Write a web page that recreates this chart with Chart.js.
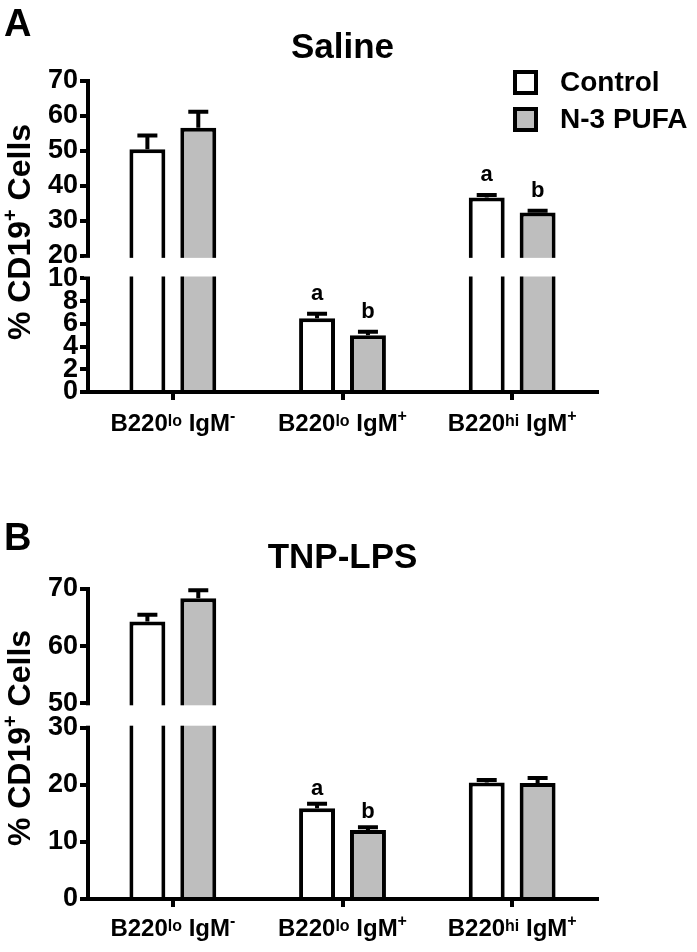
<!DOCTYPE html>
<html lang="en">
<head>
<meta charset="UTF-8">
<title>% CD19+ cells - Saline / TNP-LPS</title>
<script src="https://cdn.jsdelivr.net/npm/chart.js@4.4.1/dist/chart.umd.min.js"></script>
<style>
  body { margin: 0; background: #fff; }
  canvas { position: absolute; left: 0; }
  #panelA { top: 0; }
  #panelB { top: 476px; }
</style>
</head>
<body>
<canvas id="panelA" width="697" height="476"></canvas>
<canvas id="panelB" width="697" height="476"></canvas>
<script>
// categories: [normal, superscript, normal, superscript]
const categoryParts = [
  ['B220', 'lo', ' IgM', '-'],
  ['B220', 'lo', ' IgM', '+'],
  ['B220', 'hi', ' IgM', '+']
];
const categories = categoryParts.map(p => p.join(''));
const seriesNames = ['Control', 'N-3 PUFA'];

// Saline
const salineControl = [50.5, 6.5, 36.7];
const salineControlErr = [3.9, 0.4, 0.7];
const salinePufa = [56.6, 5.0, 32.4];
const salinePufaErr = [4.6, 0.3, 0.5];
const salineSigControl = ['', 'a', 'a'];
const salineSigPufa = ['', 'b', 'b'];
const salineTicks = [0, 2, 4, 6, 8, 10, 20, 30, 40, 50, 60, 70];

// TNP-LPS
const tnpControl = [64.3, 15.9, 20.4];
const tnpControlErr = [1.2, 0.8, 0.45];
const tnpPufa = [68.4, 12.1, 20.3];
const tnpPufaErr = [1.4, 0.45, 0.9];
const tnpSigControl = ['', 'a', ''];
const tnpSigPufa = ['', 'b', ''];
const tnpTicks = [0, 10, 20, 30, 50, 60, 70];

const FONT = "'Liberation Sans', Arial, Helvetica, sans-serif";
const GREY = '#bebebe';
Chart.defaults.font.family = FONT;
Chart.defaults.font.weight = 'bold';
Chart.defaults.color = '#000';

// linear scale with one break (lower range, gap, upper range)
class BrokenScale extends Chart.LinearScale {
  getPixelForValue(value) {
    if (value === null || value === undefined) return NaN;
    const o = this.options;
    const k = (this.bottom - this.top) / (o.lowerSize + o.gapSize + o.upperSize);
    const lowTop = this.bottom - o.lowerSize * k;
    const highBot = lowTop - o.gapSize * k;
    if (value <= o.lowerMax) {
      return this.bottom - (value - o.lowerMin) / (o.lowerMax - o.lowerMin) * o.lowerSize * k;
    }
    if (value >= o.upperMin) {
      return highBot - (value - o.upperMin) / (o.upperMax - o.upperMin) * o.upperSize * k;
    }
    return lowTop - (value - o.lowerMax) / (o.upperMin - o.lowerMax) * o.gapSize * k;
  }
  getValueForPixel(pixel) {
    const o = this.options;
    const k = (this.bottom - this.top) / (o.lowerSize + o.gapSize + o.upperSize);
    const lowTop = this.bottom - o.lowerSize * k;
    const highBot = lowTop - o.gapSize * k;
    if (pixel >= lowTop) return o.lowerMin + (this.bottom - pixel) / (o.lowerSize * k) * (o.lowerMax - o.lowerMin);
    if (pixel <= highBot) return o.upperMin + (highBot - pixel) / (o.upperSize * k) * (o.upperMax - o.upperMin);
    return o.lowerMax + (lowTop - pixel) / (o.gapSize * k) * (o.upperMin - o.lowerMax);
  }
}
BrokenScale.id = 'broken';
Chart.register(BrokenScale);

function drawRich(ctx, parts, x, y, mainPx, supPx, align) {
  const fonts = parts.map((p, i) => `bold ${i % 2 ? supPx : mainPx}px ${FONT}`);
  let total = 0;
  const widths = parts.map((p, i) => { ctx.font = fonts[i]; const w = ctx.measureText(p).width; total += w; return w; });
  let cx = align === 'center' ? x - total / 2 : x;
  ctx.textAlign = 'left';
  ctx.textBaseline = 'alphabetic';
  parts.forEach((p, i) => {
    ctx.font = fonts[i];
    let dy = 0;
    if (i % 2) dy = /[a-z]/.test(p) ? mainPx * 0.22 : mainPx * 0.4;
    ctx.fillText(p, cx, y - dy);
    cx += widths[i];
  });
}

const decor = {
  id: 'decor',
  afterDatasetsDraw(chart, args, opts) {
    const ctx = chart.ctx;
    const y = chart.scales.y;
    ctx.save();
    chart.data.datasets.forEach((ds, i) => {
      chart.getDatasetMeta(i).data.forEach((bar, j) => {
        const top = y.getPixelForValue(ds.data[j] + ds.errors[j]);
        ctx.strokeStyle = '#000';
        ctx.lineWidth = 4;
        ctx.beginPath();
        ctx.moveTo(bar.x, bar.y);
        ctx.lineTo(bar.x, top);
        ctx.moveTo(bar.x - 10, top);
        ctx.lineTo(bar.x + 10, top);
        ctx.stroke();
        if (ds.sig[j]) {
          ctx.fillStyle = '#000';
          ctx.font = `bold 22px ${FONT}`;
          ctx.textAlign = 'center';
          ctx.textBaseline = 'alphabetic';
          ctx.fillText(ds.sig[j], bar.x, top - opts.sigGap);
        }
      });
    });
    ctx.restore();
  },
  afterDraw(chart, args, opts) {
    const ctx = chart.ctx;
    const area = chart.chartArea;
    const y = chart.scales.y;
    const x = chart.scales.x;
    ctx.save();
    // axis break
    const yHi = y.getPixelForValue(y.options.upperMin) + 2;
    const yLo = y.getPixelForValue(y.options.lowerMax) - 2;
    ctx.fillStyle = '#fff';
    ctx.fillRect(area.left - 4, yHi, area.right - area.left + 8, yLo - yHi);

    ctx.fillStyle = '#000';
    // panel letter
    ctx.font = `bold 38px ${FONT}`;
    ctx.textAlign = 'left';
    ctx.textBaseline = 'alphabetic';
    ctx.fillText(opts.letter, 4, opts.letterY);

    // category labels
    categoryParts.forEach((parts, j) => {
      drawRich(ctx, parts, x.getPixelForValue(j), area.bottom + opts.xLabelGap, 24, 16, 'center');
    });

    // y title
    ctx.save();
    ctx.translate(30, opts.yTitleY);
    ctx.rotate(-Math.PI / 2);
    drawRich(ctx, ['% CD19', '+', ' Cells'], 0, 0, 32, 20, 'center');
    ctx.restore();

    // legend
    if (opts.legend) {
      chart.data.datasets.forEach((ds, i) => {
        const bx = area.right - 84;
        const by = area.top - 11 + i * 37;
        ctx.fillStyle = '#000';
        ctx.fillRect(bx, by, 25, 25);
        ctx.fillStyle = ds.backgroundColor;
        ctx.fillRect(bx + 4, by + 4, 17, 17);
        ctx.fillStyle = '#000';
        ctx.font = `bold 28px ${FONT}`;
        ctx.textAlign = 'left';
        ctx.textBaseline = 'middle';
        ctx.fillText(ds.label, bx + 47, by + 13);
      });
    }
    ctx.restore();
  }
};

function makePanel(id, cfg) {
  new Chart(document.getElementById(id), {
    type: 'bar',
    data: {
      labels: categories,
      datasets: [
        { label: seriesNames[0], data: cfg.control, errors: cfg.controlErr, sig: cfg.sigControl,
          backgroundColor: '#ffffff', borderColor: '#000', borderWidth: 4, borderSkipped: 'start' },
        { label: seriesNames[1], data: cfg.pufa, errors: cfg.pufaErr, sig: cfg.sigPufa,
          backgroundColor: GREY, borderColor: '#000', borderWidth: 4, borderSkipped: 'start' }
      ]
    },
    options: {
      responsive: false,
      animation: false,
      devicePixelRatio: 1,
      events: [],
      categoryPercentage: 0.6,
      barPercentage: 0.706,
      layout: { padding: { left: 0, right: 100, top: 0, bottom: 0 } },
      plugins: {
        legend: { display: false },
        tooltip: { enabled: false },
        title: {
          display: true,
          fullSize: false,
          text: cfg.title,
          color: '#000',
          font: { size: 35, weight: 'bold' },
          padding: cfg.titlePadding
        },
        decor: cfg.decor
      },
      scales: {
        x: {
          type: 'category',
          grid: { offset: false, drawOnChartArea: false, color: '#000', lineWidth: 4, tickLength: 8 },
          border: { display: true, color: '#000', width: 4, z: 1 },
          ticks: { display: false },
          afterFit: s => { s.height = cfg.xAxisHeight; }
        },
        y: Object.assign({
          type: 'broken',
          grid: { drawOnChartArea: false, color: '#000', lineWidth: 4, tickLength: 8 },
          border: { display: true, color: '#000', width: 4, z: 1 },
          ticks: { autoSkip: false, padding: 2, color: '#000', font: { size: 27, weight: 'bold' }, callback: v => String(v) },
          afterBuildTicks: s => { s.ticks = cfg.ticks.map(v => ({ value: v })); },
          afterFit: s => { s.width = 88; }
        }, cfg.axis)
      }
    },
    plugins: [decor]
  });
}

makePanel('panelA', {
  title: 'Saline',
  control: salineControl, controlErr: salineControlErr, sigControl: salineSigControl,
  pufa: salinePufa, pufaErr: salinePufaErr, sigPufa: salineSigPufa,
  ticks: salineTicks,
  axis: { min: 0, max: 70, lowerMin: 0, lowerMax: 10, upperMin: 20, upperMax: 70,
          lowerSize: 113.4, gapSize: 22.6, upperSize: 174.7 },
  titlePadding: { top: 27.5, bottom: 11.5 },
  xAxisHeight: 84,
  decor: { letter: 'A', letterY: 36, yTitleY: 232, xLabelGap: 39, sigGap: 14, legend: true }
});

makePanel('panelB', {
  title: 'TNP-LPS',
  control: tnpControl, controlErr: tnpControlErr, sigControl: tnpSigControl,
  pufa: tnpPufa, pufaErr: tnpPufaErr, sigPufa: tnpSigPufa,
  ticks: tnpTicks,
  axis: { min: 0, max: 70, lowerMin: 0, lowerMax: 30, upperMin: 50, upperMax: 70,
          lowerSize: 171.3, gapSize: 24.4, upperSize: 114.3 },
  titlePadding: { top: 61, bottom: 10 },
  xAxisHeight: 53,
  decor: { letter: 'B', letterY: 74, yTitleY: 262, xLabelGap: 37, sigGap: 9, legend: false }
});
</script>
</body>
</html>
